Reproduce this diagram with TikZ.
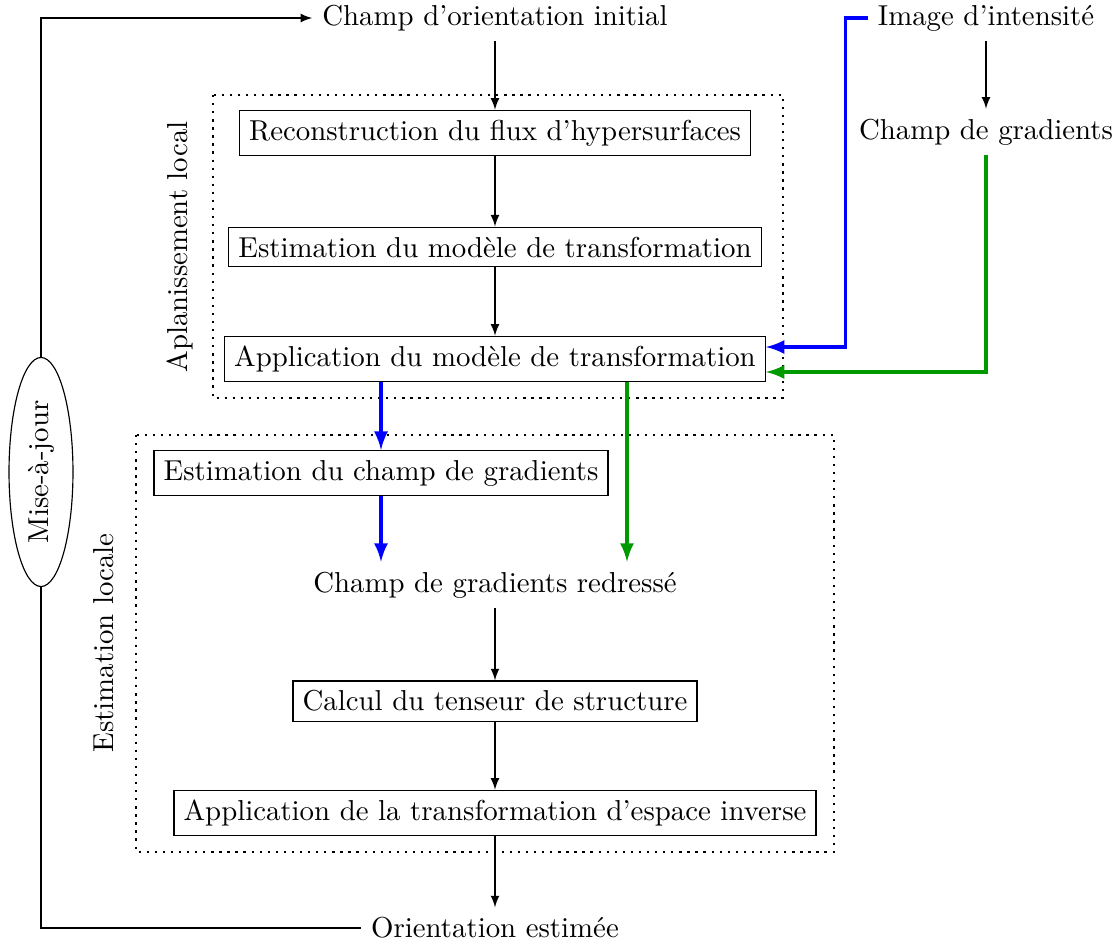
\documentclass[tikz,border=0pt]{standalone}
\usetikzlibrary{shapes.geometric,calc}
\begin{document}
\begin{tikzpicture}[x=0.347pt,y=-0.347pt,
  box/.style={draw,inner sep=3.33pt},
  txt/.style={inner sep=3.33pt},
  thinarrow/.style={-latex},
  bluearrow/.style={-latex,blue,very thick},
  greenarrow/.style={-latex,green!60!black,very thick},
  group/.style={thick,dotted},
  sidelabel/.style={rotate=90}]
\useasboundingbox (0,0) rectangle (1119,943);
% nodes
\node[txt] (cinit) at (495,18) {Champ d'orientation initial};
\node[txt] (img) at (986,18) {Image d'intensit\'e};
\node[txt] (grad) at (986,132) {Champ de gradients};
\node[box] (rec) at (495,133) {Reconstruction du flux d'hypersurfaces};
\node[box] (mod) at (495,247) {Estimation du mod\`ele de transformation};
\node[box] (app) at (495,359) {Application du mod\`ele de transformation};
\node[box] (est) at (381,473) {Estimation du champ de gradients};
\node[txt] (red) at (495,585) {Champ de gradients redress\'e};
\node[box] (cal) at (495,701) {Calcul du tenseur de structure};
\node[box] (inv) at (495,813) {Application de la transformation d'espace inverse};
\node[txt] (orient) at (495,928) {Orientation estim\'ee};
\node[draw,ellipse,rotate=90] (maj) at (41,472) {Mise-\`a-jour};
\node[sidelabel] (lab1) at (180,247) {Aplanissement local};
\node[sidelabel] (lab2) at (104,643) {Estimation locale};
% groups
\draw[group] (213,95) rectangle (783,398);
\draw[group] (136,435) rectangle (834,852);
% thin arrows
\draw[thinarrow] (cinit) -- (rec);
\draw[thinarrow] (rec) -- (mod);
\draw[thinarrow] (mod) -- (app);
\draw[thinarrow] (img) -- (grad);
\draw[thinarrow] (red) -- (cal);
\draw[thinarrow] (cal) -- (inv);
\draw[thinarrow] (inv) -- (orient);
% loop
\draw[thinarrow] (maj.east) |- (cinit.west);
\draw (orient.west) -| (maj.west);
% coloured
\coordinate (bin) at ($(app.east)+(0,-12)$);
\coordinate (gin) at ($(app.east)+(0,13)$);
\draw[bluearrow] (img.west) -- ++(-22,0) |- (bin);
\draw[greenarrow] (grad.south) |- (gin);
\draw[bluearrow] (est.north |- app.south) -- (est.north);
\draw[bluearrow] (est.south) -- (est.south |- red.north);
\coordinate (gout) at ($(app.south)+(132,0)$);
\draw[greenarrow] (gout) -- (gout |- red.north);
\end{tikzpicture}
\end{document}
